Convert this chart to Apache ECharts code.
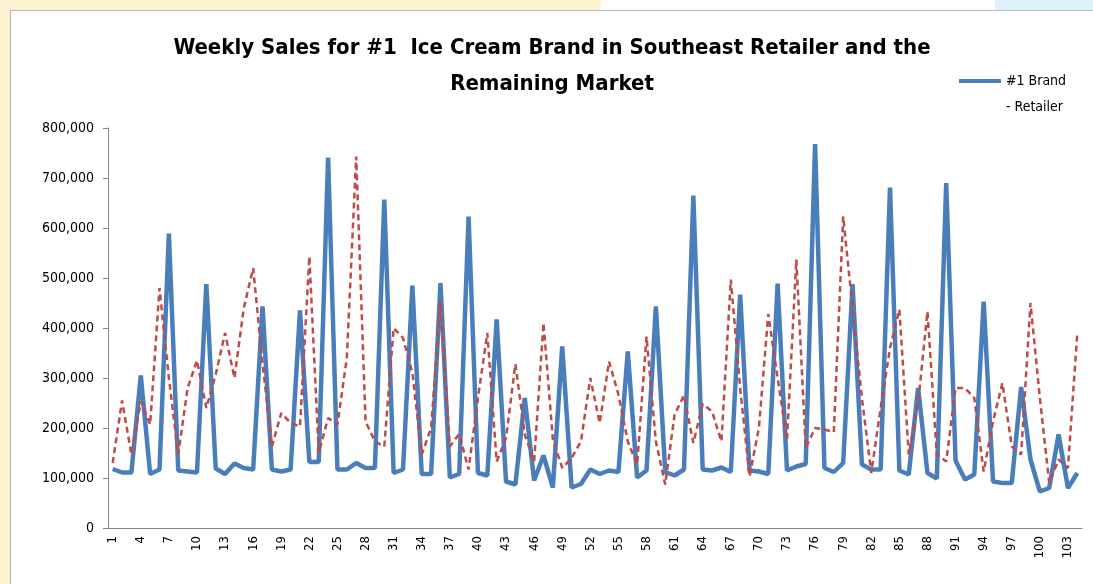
<!DOCTYPE html>
<html>
<head>
<meta charset="utf-8">
<title>Weekly Sales for #1 Ice Cream Brand</title>
<script src="https://cdn.jsdelivr.net/npm/echarts@6/dist/echarts.min.js"></script>
<style>
  html, body { margin: 0; padding: 0; width: 1093px; height: 584px; overflow: hidden;
    background: linear-gradient(to right, #fdf2d2 0, #fdf2d2 55%, #ffffff 55%, #ffffff 91%, #dcf1fb 91%); }
  #main { position: absolute; left: 10px; top: 10px; width: 1083px; height: 574px; background: #fff;
    border-left: 1px solid #b8b8b8; border-top: 1px solid #b8b8b8; box-sizing: border-box; }
</style>
</head>
<body>
<div id="main"></div>
<script>
  // weeks 1..104 (category labels)
  var weeks = []
  for (var i = 1; i <= 104; i++) weeks.push(String(i))

  // #1 Brand - Retailer (solid blue)
  var brandRetailer = [
    118000, 111000, 111000, 305000, 108000, 117000, 589000, 115000, 113000, 111000,
    488000, 119000, 108000, 129000, 120000, 117000, 443000, 117000, 113000, 117000,
    435000, 132000, 132000, 741000, 117000, 117000, 130000, 120000, 120000, 657000,
    110000, 117000, 485000, 108000, 108000, 490000, 101000, 108000, 623000, 110000,
    105000, 417000, 93000, 87000, 260000, 95000, 145000, 81000, 363000, 81000,
    88000, 117000, 108000, 115000, 112000, 353000, 101000, 115000, 443000, 112000,
    105000, 117000, 665000, 117000, 115000, 121000, 112000, 467000, 115000, 113000,
    108000, 489000, 115000, 123000, 128000, 768000, 120000, 112000, 130000, 488000,
    127000, 117000, 117000, 681000, 115000, 107000, 280000, 110000, 99000, 690000,
    135000, 97000, 107000, 453000, 93000, 90000, 90000, 282000, 137000, 73000,
    80000, 187000, 80000, 110000
  ]

  // Remaining market (dashed red)
  var remainingMarket = [
    130000, 255000, 147000, 253000, 207000, 480000, 300000, 147000, 280000, 335000,
    240000, 307000, 390000, 300000, 440000, 520000, 330000, 163000, 230000, 210000,
    203000, 543000, 150000, 220000, 207000, 340000, 743000, 213000, 173000, 163000,
    400000, 380000, 310000, 147000, 200000, 453000, 163000, 188000, 117000, 260000,
    390000, 133000, 180000, 328000, 187000, 133000, 410000, 177000, 120000, 140000,
    173000, 300000, 210000, 333000, 267000, 173000, 127000, 383000, 173000, 87000,
    227000, 265000, 170000, 248000, 233000, 173000, 497000, 280000, 103000, 200000,
    428000, 300000, 177000, 537000, 160000, 200000, 197000, 192000, 623000, 440000,
    260000, 110000, 240000, 360000, 437000, 147000, 250000, 433000, 147000, 133000,
    280000, 280000, 260000, 113000, 213000, 290000, 163000, 147000, 450000, 260000,
    90000, 137000, 120000, 390000
  ]

  var FONT = "'Liberation Sans Narrow', 'DejaVu Sans Condensed', sans-serif"

  var myChart = echarts.init(document.getElementById('main'))
  myChart.setOption({
    animation: false,
    title: {
      text: 'Weekly Sales for #1  Ice Cream Brand in Southeast Retailer and the\nRemaining Market',
      left: 'center',
      top: 14,
      textStyle: {
        fontFamily: FONT,
        fontWeight: 'bold',
        fontSize: 22,
        lineHeight: 36,
        color: '#000'
      }
    },
    legend: {
      data: ['#1 Brand - Retailer'],
      left: 948,
      top: 31,
      padding: 0,
      icon: 'rect',
      itemWidth: 42,
      itemHeight: 4,
      // empty first line keeps "#1 Brand" level with the line sample
      formatter: function () {
        return '\n#1 Brand\n- Retailer'
      },
      textStyle: {
        fontFamily: FONT,
        fontSize: 14,
        color: '#000',
        lineHeight: 26
      }
    },
    grid: {
      left: 97,
      right: 11,
      top: 117,
      bottom: 56
    },
    xAxis: {
      type: 'category',
      data: weeks,
      boundaryGap: true,
      axisLine: { lineStyle: { color: '#868686' } },
      axisTick: { interval: 0, length: 5, lineStyle: { color: '#868686' } },
      axisLabel: {
        interval: 2,
        rotate: 90,
        margin: 8,
        fontFamily: FONT,
        fontSize: 13,
        color: '#000'
      }
    },
    yAxis: {
      type: 'value',
      min: 0,
      max: 800000,
      interval: 100000,
      axisLine: { show: true, lineStyle: { color: '#868686' } },
      axisTick: { show: true, length: 5, lineStyle: { color: '#868686' } },
      splitLine: { show: false },
      axisLabel: {
        margin: 14,
        fontFamily: FONT,
        fontSize: 14,
        color: '#000',
        formatter: function (v) {
          return v.toLocaleString('en-US')
        }
      }
    },
    series: [{
        name: '#1 Brand - Retailer',
        type: 'line',
        data: brandRetailer,
        symbol: 'none',
        lineStyle: { color: '#4a7ebb', width: 4.5 },
        itemStyle: { color: '#4a7ebb' }
      },
      {
        name: 'Remaining Market',
        type: 'line',
        data: remainingMarket,
        symbol: 'none',
        lineStyle: { color: '#be4b48', width: 2.5, type: [6, 4] },
        itemStyle: { color: '#be4b48' }
      }
    ]
  })
</script>
</body>
</html>
